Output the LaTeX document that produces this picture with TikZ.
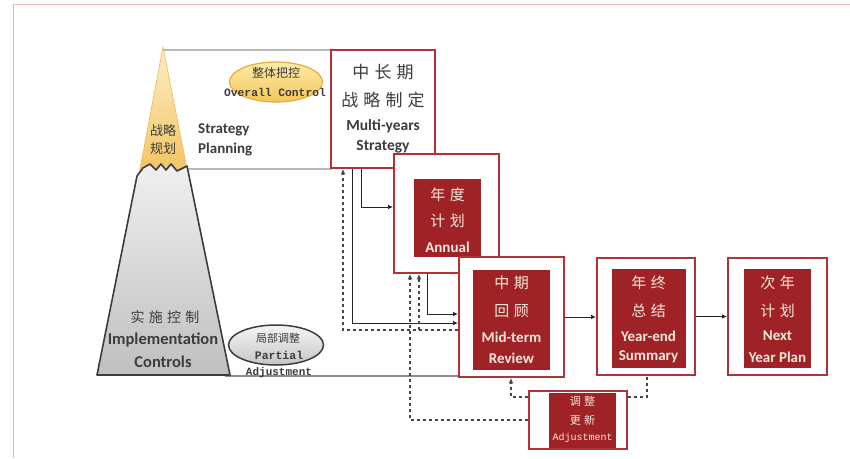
\documentclass[tikz,border=0pt]{standalone}
\usepackage{fontspec}
\setmainfont{Carlito}
\newfontfamily\cjk{Noto Sans CJK SC}
\newfontfamily\monof{Liberation Mono}
\usetikzlibrary{shapes.geometric,arrows.meta}
\definecolor{boxred}{RGB}{178,50,54}
\definecolor{fillred}{RGB}{158,34,38}
\definecolor{cream}{RGB}{248,232,220}
\definecolor{framepink}{RGB}{232,180,180}
\definecolor{txtgray}{RGB}{60,60,60}
\definecolor{linegray}{RGB}{185,185,185}
\definecolor{peaktop}{RGB}{252,238,200}
\definecolor{peakbot}{RGB}{242,196,96}
\definecolor{elltop}{RGB}{252,236,170}
\definecolor{ellbot}{RGB}{245,198,88}
\definecolor{elldraw}{RGB}{236,170,62}
\newcommand\cg{\hspace{0.3em}}
\begin{document}
\begin{tikzpicture}[x=1pt,y=-1pt,
  outerbox/.style={draw=boxred, line width=1.8pt, fill=white, inner sep=0pt},
  innerbox/.style={fill=fillred, inner sep=0pt},
  zhw/.style={font=\cjk\fontsize{15}{15}\selectfont, text=cream, inner sep=0pt},
  enw/.style={font=\bfseries\fontsize{15}{15}\selectfont, text=cream, inner sep=0pt},
  zhd/.style={font=\cjk\fontsize{17}{17}\selectfont, text=txtgray, inner sep=0pt},
  end/.style={font=\bfseries\fontsize{15.5}{15.5}\selectfont, text=txtgray, inner sep=0pt},
  mono/.style={font=\monof\fontsize{11}{11}\selectfont, text=txtgray, inner sep=0pt},
  conn/.style={draw=black!85, line width=1pt, -{Latex[length=5pt,width=4.5pt]}},
  dashconn/.style={draw=black!72, line width=1.6pt, dash pattern=on 3.5pt off 2.5pt},
  dasharr/.style={dashconn, -{Latex[length=5.5pt,width=5pt]}}
]
\useasboundingbox (0,0) rectangle (850,458);
\fill[white] (0,0) rectangle (850,458);
\draw[framepink, line width=1pt] (13,458) -- (13,4) -- (850,4);

% planning region lines
\draw[linegray, line width=2pt] (163,50) -- (332,50);
\draw[linegray, line width=2pt] (186,169) -- (332,169);
\draw[black!45, line width=1.2pt] (225,376) -- (459,376);

% peak
\path[top color=peaktop, bottom color=peakbot, draw=peakbot!80!orange, line width=0.6pt]
  (163,47) -- (188,174) -- (139,174) -- cycle;
\node[font=\cjk\fontsize{13}{13}\selectfont, text=txtgray, inner sep=0pt] (pk1) at (163,131) {战略};
\node[font=\cjk\fontsize{13}{13}\selectfont, text=txtgray, inner sep=0pt] (pk2) at (163,149) {规划};

% mountain
\path[top color=gray!12, bottom color=gray!50, draw=txtgray, line width=1.6pt, line join=round]
  (97,375) -- (137,176) -- (143,168) -- (150,164) -- (156,170) -- (161,164) -- (166,170)
  -- (171,164) -- (177,171) -- (187,166) -- (230,375) -- cycle;
\node[font=\cjk\fontsize{14}{14}\selectfont, text=txtgray, inner sep=0pt] (im1) at (165,317) {实\cg 施\cg 控\cg 制};
\node[end, font=\bfseries\fontsize{16.5}{16.5}\selectfont] (im2) at (163,340) {Implementation};
\node[end, font=\bfseries\fontsize{16.5}{16.5}\selectfont] (im3) at (163,362) {Controls};

% strategy planning text
\node[end, anchor=west, font=\bfseries\fontsize{15}{15}\selectfont] (sp1) at (198,130) {Strategy};
\node[end, anchor=west, font=\bfseries\fontsize{15}{15}\selectfont] (sp2) at (198,150) {Planning};

% overall control ellipse
\node[ellipse, minimum width=93pt, minimum height=40pt, top color=elltop, bottom color=ellbot,
  draw=elldraw, line width=1.2pt] (ov) at (276,82) {};
\node[font=\cjk\fontsize{12}{12}\selectfont, text=txtgray, inner sep=0pt] (ov1) at (276,73) {整体把控};
\node[mono, font=\monof\bfseries\fontsize{11.3}{11.3}\selectfont] (ov2) at (275,92) {Overall Control};

% partial adjustment ellipse
\node[ellipse, minimum width=95pt, minimum height=40pt, top color=gray!8, bottom color=gray!45,
  draw=txtgray, line width=1.5pt] (pa) at (276,345) {};
\node[font=\cjk\fontsize{11}{11}\selectfont, text=txtgray, inner sep=0pt] (pa1) at (278,338) {局部调整};
\node[mono, font=\monof\bfseries\fontsize{11.5}{11.5}\selectfont] (pa2) at (279,355) {Partial};
\node[mono, font=\monof\bfseries\fontsize{11}{11}\selectfont] (pa3) at (279,373) {Adjustment};

% multi-years strategy box
\node[outerbox, minimum width=104pt, minimum height=118pt] (ms) at (383,109) {};
\node[zhd] (ms1) at (383,72) {中\cg 长\cg 期};
\node[zhd] (ms2) at (383,100) {战\cg 略\cg 制\cg 定};
\node[end] (ms3) at (383,126) {Multi-years};
\node[end] (ms4) at (383,147) {Strategy};

% annual box
\node[outerbox, minimum width=105pt, minimum height=119pt] (an) at (446.5,213.5) {};
\node[innerbox, minimum width=67pt, minimum height=78pt] (ani) at (447.5,218) {};
\node[zhw] (an1) at (447.5,195) {年\cg 度};
\node[zhw] (an2) at (447.5,221) {计\cg 划};
\node[enw] (an3) at (447.5,247) {Annual};

% mid-term box
\node[outerbox, minimum width=105pt, minimum height=120pt] (md) at (511.5,317) {};
\node[innerbox, minimum width=77pt, minimum height=100pt] (mdi) at (511.5,320) {};
\node[zhw] (md1) at (511.5,283) {中\cg 期};
\node[zhw] (md2) at (511.5,311) {回\cg 顾};
\node[enw] (md3) at (511.5,337) {Mid-term};
\node[enw] (md4) at (511.5,358) {Review};

% year-end box
\node[outerbox, minimum width=98pt, minimum height=117pt] (ye) at (646,316.5) {};
\node[innerbox, minimum width=74pt, minimum height=99pt] (yei) at (648.5,318.5) {};
\node[zhw] (ye1) at (648.5,283) {年\cg 终};
\node[zhw] (ye2) at (648.5,311) {总\cg 结};
\node[enw] (ye3) at (648.5,336) {Year-end};
\node[enw] (ye4) at (648.5,357) {Summary};

% next year box
\node[outerbox, minimum width=99pt, minimum height=117pt] (nx) at (777.5,316.5) {};
\node[innerbox, minimum width=67pt, minimum height=99pt] (nxi) at (777.5,318.5) {};
\node[zhw] (nx1) at (777.5,283) {次\cg 年};
\node[zhw] (nx2) at (777.5,311) {计\cg 划};
\node[enw] (nx3) at (777.5,336) {Next};
\node[enw] (nx4) at (777.5,357) {Year Plan};

% adjustment box
\node[outerbox, minimum width=98pt, minimum height=58pt] (ad) at (578,420) {};
\node[innerbox, minimum width=67pt, minimum height=55pt] (adi) at (582.5,420) {};
\node[zhw, font=\cjk\fontsize{11}{11}\selectfont] (ad1) at (582.5,401) {调\cg 整};
\node[zhw, font=\cjk\fontsize{11}{11}\selectfont] (ad2) at (582.5,420) {更\cg 新};
\node[mono, text=cream, font=\monof\fontsize{10}{10}\selectfont] (ad3) at (582.5,438) {Adjustment};

% bend coordinates
\coordinate (c1) at (352,323);
\coordinate (c2) at (361,207);
\coordinate (c3) at (427,314);
\coordinate (d1) at (343,330);
\coordinate (d2) at (419,330);
\coordinate (d3) at (410,420);
\coordinate (d4) at (511,397);
\coordinate (d5) at (647,397);

% solid connectors
\draw[conn] (ms.south -| c1) -- (c1) -- (md.west |- c1);
\draw[conn] (ms.south -| c2) -- (c2) -- (an.west |- c2);
\draw[conn] (an.south -| c3) -- (c3) -- (md.west |- c3);
\draw[conn] (md.east) -- (md.east -| ye.west);
\draw[conn] (ye.east) -- (ye.east -| nx.west);

% dashed connectors
\draw[dasharr] (md.west |- d1) -- (d1) -- (ms.south -| d1);
\draw[dasharr] (d2) -- (an.south -| d2);
\draw[dasharr] (ad.west |- d3) -- (d3) -- (an.south -| d3);
\draw[dasharr] (ad.west |- d4) -- (d4) -- (md.south -| d4);
\draw[dashconn] (ad.east |- d5) -- (d5) -- (ye.south -| d5);
\end{tikzpicture}
\end{document}
